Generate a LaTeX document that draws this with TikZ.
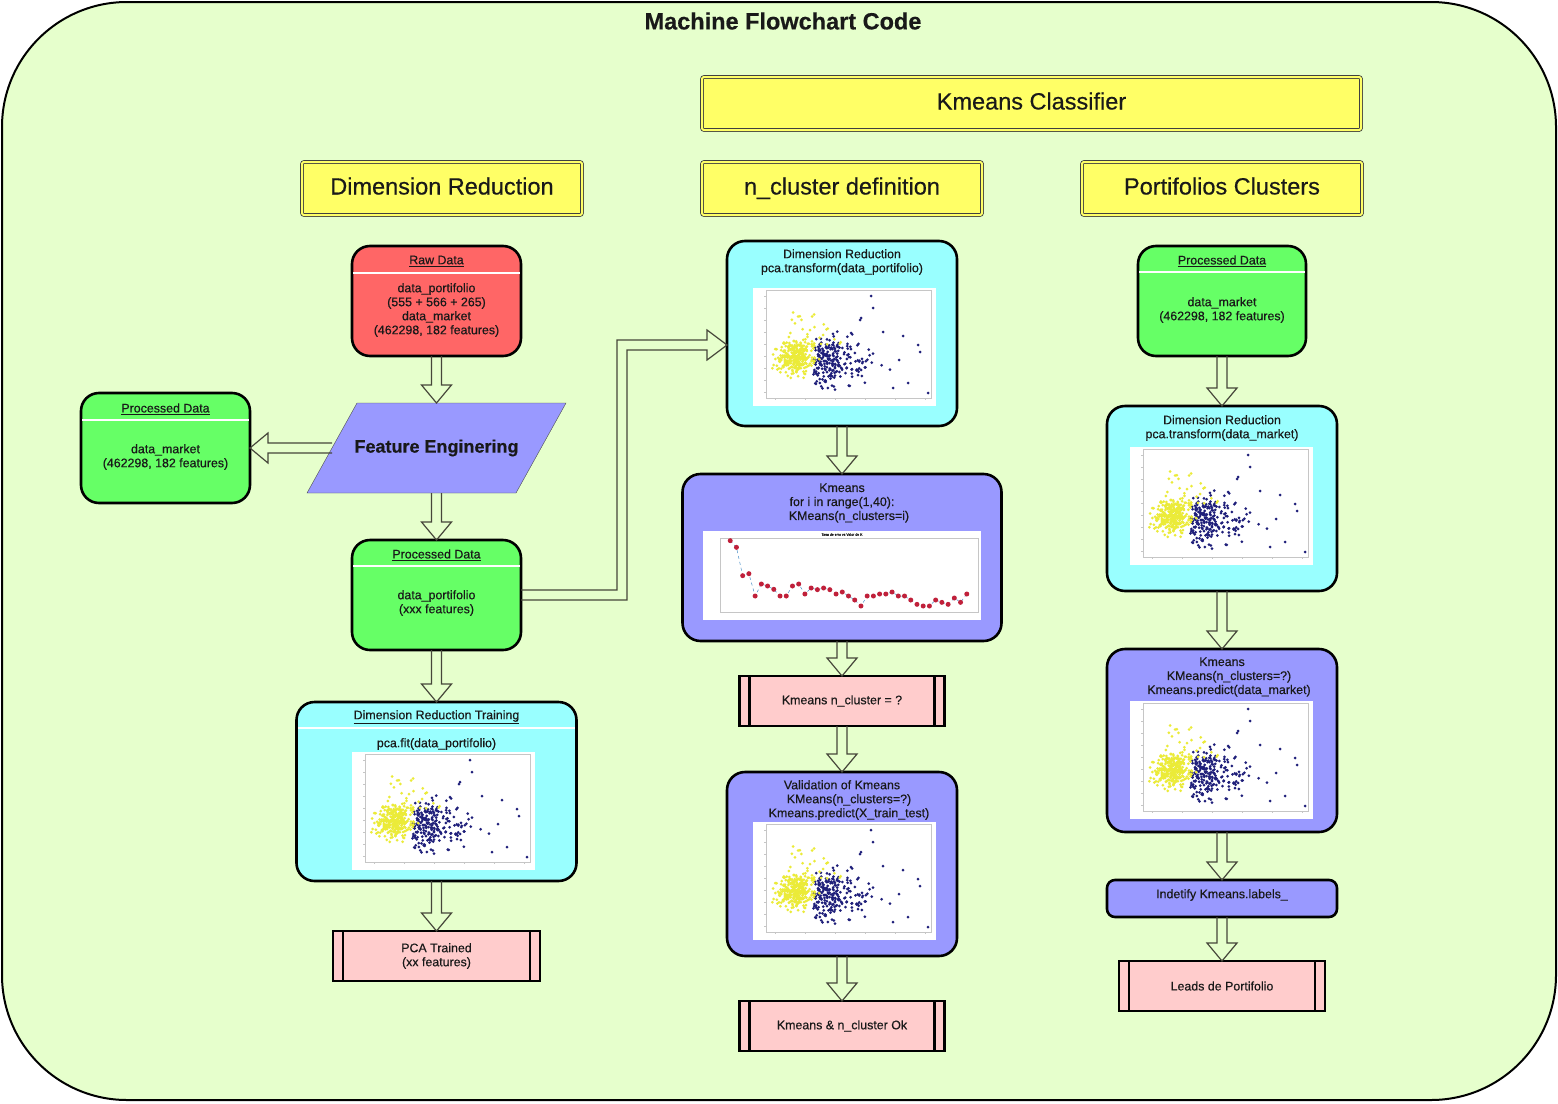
\documentclass[tikz,border=0pt]{standalone}
\usepackage{fontspec}
\setmainfont{Liberation Sans}[FakeBold=0.4]
\usetikzlibrary{positioning,calc}
\usepackage{xcolor}

\definecolor{bgfill}{HTML}{E6FFCC}
\definecolor{yellowfill}{HTML}{FFFF66}
\definecolor{redfill}{HTML}{FF6666}
\definecolor{greenfill}{HTML}{66FF66}
\definecolor{cyanfill}{HTML}{99FFFF}
\definecolor{violetfill}{HTML}{9999FF}
\definecolor{pinkfill}{HTML}{FFCCCC}
\definecolor{arrowline}{HTML}{46463A}
\definecolor{navydot}{HTML}{1F1F7A}
\definecolor{yellowdot}{HTML}{EBEB38}
\definecolor{errdot}{HTML}{C0203A}
\definecolor{errline}{HTML}{4A90C8}

\tikzset{
  every node/.style={font=\fontsize{12.4}{14}\selectfont, text=black!90},
  databox/.style={draw=black, line width=2.6pt, rounded corners=18pt, inner sep=0pt, outer sep=0pt},
  titlebox/.style={draw=black!75, double=yellowfill, double distance=2pt, line width=0.8pt,
    fill=yellowfill, rounded corners=2pt, minimum height=53pt, minimum width=280pt,
    text height=17pt, text depth=5pt, font=\fontsize{23.5}{28}\selectfont},
  procbox/.style={draw=black, line width=2.6pt, fill=pinkfill, minimum height=50pt, align=center, outer sep=0pt},
  blockarrow/.style={draw=arrowline, line width=1.2pt, line join=miter},
  sepline/.style={white, line width=1.5pt, shorten <=1.3pt, shorten >=1.3pt},
  txt/.style={align=center, inner sep=0pt},
}

% hollow arrows between boxes
\newcommand\blockdown[2]{%
  \draw[blockarrow] let \p1=(#1), \p2=(#2) in
    (\x1-5pt,\y1) -- (\x1-5pt,\y2+18pt) -- (\x1-15pt,\y2+18pt) -- (\x1,\y2)
    -- (\x1+15pt,\y2+18pt) -- (\x1+5pt,\y2+18pt) -- (\x1+5pt,\y1);}
\newcommand\blockleft[2]{%
  \draw[blockarrow] let \p1=(#1), \p2=(#2) in
    (\x1,\y1+5pt) -- (\x2+18pt,\y1+5pt) -- (\x2+18pt,\y1+15pt) -- (\x2,\y1)
    -- (\x2+18pt,\y1-15pt) -- (\x2+18pt,\y1-5pt) -- (\x1,\y1-5pt);}
\newcommand\blockelbow[2]{%
  \draw[blockarrow] let \p1=(#1), \p2=(#2) in
    (\x1,\y1+5pt) -- (\x1+96pt,\y1+5pt) -- (\x1+96pt,\y2+5pt) -- (\x2-20pt,\y2+5pt)
    -- (\x2-20pt,\y2+15pt) -- (\x2,\y2) -- (\x2-20pt,\y2-15pt) -- (\x2-20pt,\y2-5pt)
    -- (\x1+106pt,\y2-5pt) -- (\x1+106pt,\y1-5pt) -- (\x1,\y1-5pt);}

% PCA scatter picture, #1 = top left corner
\newcommand\scatterplot[1]{%
  \begin{scope}[shift={(#1)}]
    \fill[white] (0,0) rectangle (183,118);
    \draw[gray!45, line width=0.4pt] (13,2) rectangle (178,110);
    \foreach \t in {8,20,32,44,56,68,80,92,104}{
      \draw[gray!45, line width=0.4pt] (11,\t) -- (13,\t);
    }
    \foreach \t in {22,52,82,112,142,172}{
      \draw[gray!45, line width=0.4pt] (\t,110) -- (\t,112);
    }
    \pgfmathsetseed{11}
    \foreach \i in {1,...,230}{
      \pgfmathsetmacro\px{min(60+abs(19*(rand+rand+rand))+50*rnd*rnd*rnd,174)}
      \pgfmathsetmacro\py{max(min(74+12*(rand+rand+rand),107),22)}
      \fill[navydot] (\px,\py) circle (1.5);
    }
    \foreach \p in {{118,8},{120,20},{108,30},{107,32},{150,48},{165,57},{167,64},{155,95},{175,105},{140,100},{146,72},{130,44},{98,45}}{
      \fill[navydot] (\p) circle (1.5);
    }
    \foreach \i in {1,...,300}{
      \pgfmathsetmacro\px{max(min(42+9*(rand+rand+rand),70),17)}
      \pgfmathsetmacro\py{max(min(70+8*(rand+rand+rand),96),40)}
      \fill[yellowdot] (\px,\py) circle (1.5);
    }
    \foreach \i in {1,...,32}{
      \pgfmathsetmacro\px{30+60*rnd}
      \pgfmathsetmacro\py{58-45*rnd*rnd}
      \fill[yellowdot] (\px,\py) circle (1.5);
    }
  \end{scope}}

\def\errvals{212,232,317,311,378,342,348,358,378,378,348,342,372,354,359,354,359,372,366,378,390,408,378,378,372,372,366,378,378,390,403,408,408,390,397,403,384,397,372}

\begin{document}
\begin{tikzpicture}[x=1pt, y=-1pt]
  \useasboundingbox (0,0) rectangle (1558,1103);
  \draw[fill=bgfill, line width=2pt, rounded corners=125pt] (2,2) rectangle (1556,1100);
  \node[font=\fontsize{23.5}{28}\selectfont\bfseries] (title) at (783,21) {Machine Flowchart Code};

  % section headers
  \node[titlebox, minimum width=659pt] (kc) at (1031.5,103.5) {Kmeans Classifier};
  \node[titlebox] (dimred) at (442,188.5) {Dimension Reduction};
  \node[titlebox] (ncd) at (842,188.5) {n\_cluster definition};
  \node[titlebox] (pc) at (1222,188.5) {Portifolios Clusters};

  % dimension reduction column
  \node[databox, fill=redfill, minimum width=169pt, minimum height=110pt] (raw) at (436.5,301) {};
  \node[txt] (rawh) at ([yshift=-15pt]raw.north) {\underline{Raw Data}};
  \draw[sepline] ([yshift=-27pt]raw.north west) -- ([yshift=-27pt]raw.north east);
  \node[txt] (rawb) at ([yshift=-64pt]raw.north) {data\_portifolio\\(555 + 566 + 265)\\data\_market\\(462298, 182 features)};

  \node[minimum width=209pt, minimum height=90pt, inner sep=0pt, outer sep=0pt] (featbox) [below=47pt of raw] {};
  \draw[draw=black!70, fill=violetfill] ([xshift=-25pt]featbox.south west) -- ([xshift=25pt]featbox.north west)
    -- ([xshift=25pt]featbox.north east) -- ([xshift=-25pt]featbox.south east) -- cycle;
  \node[font=\fontsize{18}{21}\selectfont\bfseries] (feat) at (featbox) {Feature Enginering};

  \node[databox, fill=greenfill, minimum width=169pt, minimum height=110pt] (pdl) at (165.5,448) {};
  \node[txt] (pdlh) at ([yshift=-16pt]pdl.north) {\underline{Processed Data}};
  \draw[sepline] ([yshift=-27pt]pdl.north west) -- ([yshift=-27pt]pdl.north east);
  \node[txt] (pdlb) at ([yshift=-64pt]pdl.north) {data\_market\\(462298, 182 features)};

  \node[databox, fill=greenfill, minimum width=169pt, minimum height=110pt] (pdm) [below=47pt of featbox] {};
  \node[txt] (pdmh) at ([yshift=-15pt]pdm.north) {\underline{Processed Data}};
  \draw[sepline] ([yshift=-26pt]pdm.north west) -- ([yshift=-26pt]pdm.north east);
  \node[txt] (pdmb) at ([yshift=-63pt]pdm.north) {data\_portifolio\\(xxx features)};

  \node[databox, fill=cyanfill, minimum width=280pt, minimum height=179pt] (drt) [below=52pt of pdm] {};
  \node[txt] (drth) at ([yshift=-15pt]drt.north) {\underline{Dimension Reduction Training}};
  \draw[sepline] ([yshift=-26pt]drt.north west) -- ([yshift=-26pt]drt.north east);
  \node[txt] (drtb) at ([yshift=-42pt]drt.north) {pca.fit(data\_portifolio)};
  \scatterplot{352,752}

  \node[procbox, minimum width=207pt] (pca) [below=50pt of drt] {PCA Trained\\(xx features)};

  % n_cluster column
  \node[databox, fill=cyanfill, minimum width=230pt, minimum height=185pt] (dr1) at (842,333.5) {};
  \node[txt] (dr1t) at ([yshift=-21pt]dr1.north) {Dimension Reduction\\pca.transform(data\_portifolio)};
  \scatterplot{753,288}

  \node[databox, fill=violetfill, minimum width=319pt, minimum height=167pt] (km) [below=48pt of dr1] {};
  \node[txt] (kmt) at ([yshift=-29pt]km.north) {Kmeans\\for i in range(1,40):\\\hspace*{14pt}KMeans(n\_clusters=i)};
  \begin{scope}[shift={(703,531)}]
    \fill[white] (0,0) rectangle (278,89);
    \draw[gray!45, line width=0.4pt] (17,7) rectangle (275,81);
    \node[font=\fontsize{3.5}{4}\selectfont, inner sep=0pt] (errtitle) at (139,3.5) {Tasa de erro vs Valor de K};
    \draw[errline, dashed, line width=0.5pt] (27.225,9.667)
      \foreach \v [count=\k from 2] in {232,317,311,378,342,348,358,378,378,348,342,372,354,359,354,359,372,366,378,390,408,378,378,372,372,366,378,378,390,403,408,408,390,397,403,384,397,372}{
        -- ({21+6.225*\k},{\v/3-61})};
    \foreach \v [count=\k] in \errvals {
      \fill[errdot] ({21+6.225*\k},{\v/3-61}) circle (2.5);
    }
  \end{scope}

  \node[procbox, minimum width=205pt] (ncq) [below=35pt of km] {Kmeans n\_cluster = ?};

  \node[databox, fill=violetfill, minimum width=230pt, minimum height=184pt] (val) [below=46pt of ncq] {};
  \node[txt] (valt) at ([yshift=-28pt]val.north) {Validation of Kmeans\\\hspace*{14pt}KMeans(n\_clusters=?)\\\hspace*{14pt}Kmeans.predict(X\_train\_test)};
  \scatterplot{753,822}

  \node[procbox, minimum width=205pt] (ok) [below=45pt of val] {Kmeans \& n\_cluster Ok};

  % clusters column
  \node[databox, fill=greenfill, minimum width=168pt, minimum height=110pt] (pdr) at (1222,301) {};
  \node[txt] (pdrh) at ([yshift=-15pt]pdr.north) {\underline{Processed Data}};
  \draw[sepline] ([yshift=-26pt]pdr.north west) -- ([yshift=-26pt]pdr.north east);
  \node[txt] (pdrb) at ([yshift=-64pt]pdr.north) {data\_market\\(462298, 182 features)};

  \node[databox, fill=cyanfill, minimum width=230pt, minimum height=185pt] (dr2) [below=50pt of pdr] {};
  \node[txt] (dr2t) at ([yshift=-22pt]dr2.north) {Dimension Reduction\\pca.transform(data\_market)};
  \scatterplot{1130,447}

  \node[databox, fill=violetfill, minimum width=230pt, minimum height=183pt] (km2) [below=58pt of dr2] {};
  \node[txt] (km2t) at ([yshift=-28pt]km2.north) {Kmeans\\\hspace*{14pt}KMeans(n\_clusters=?)\\\hspace*{14pt}Kmeans.predict(data\_market)};
  \scatterplot{1130,701}

  \node[databox, fill=violetfill, rounded corners=8pt, minimum width=230pt, minimum height=37pt] (lab) [below=48pt of km2] {};
  \node[txt] (labt) at ([yshift=-15pt]lab.north) {Indetify Kmeans.labels\_};

  \node[procbox, minimum width=206pt] (leads) [below=44pt of lab] {Leads de Portifolio};

  % inner bars of the process boxes
  \foreach \n in {pca,ncq,ok,leads}{
    \draw[line width=2.6pt] ([xshift=10pt]\n.north west) -- ([xshift=10pt]\n.south west);
    \draw[line width=2.6pt] ([xshift=-10pt]\n.north east) -- ([xshift=-10pt]\n.south east);
  }

  % connectors
  \blockdown{raw.south}{featbox.north}
  \blockleft{featbox.west}{pdl.east}
  \blockdown{featbox.south}{pdm.north}
  \blockelbow{pdm.east}{[yshift=-11.5pt]dr1.west}
  \blockdown{pdm.south}{drt.north}
  \blockdown{drt.south}{pca.north}
  \blockdown{dr1.south}{km.north}
  \blockdown{km.south}{ncq.north}
  \blockdown{ncq.south}{val.north}
  \blockdown{val.south}{ok.north}
  \blockdown{pdr.south}{dr2.north}
  \blockdown{dr2.south}{km2.north}
  \blockdown{km2.south}{lab.north}
  \blockdown{lab.south}{leads.north}
\end{tikzpicture}
\end{document}
